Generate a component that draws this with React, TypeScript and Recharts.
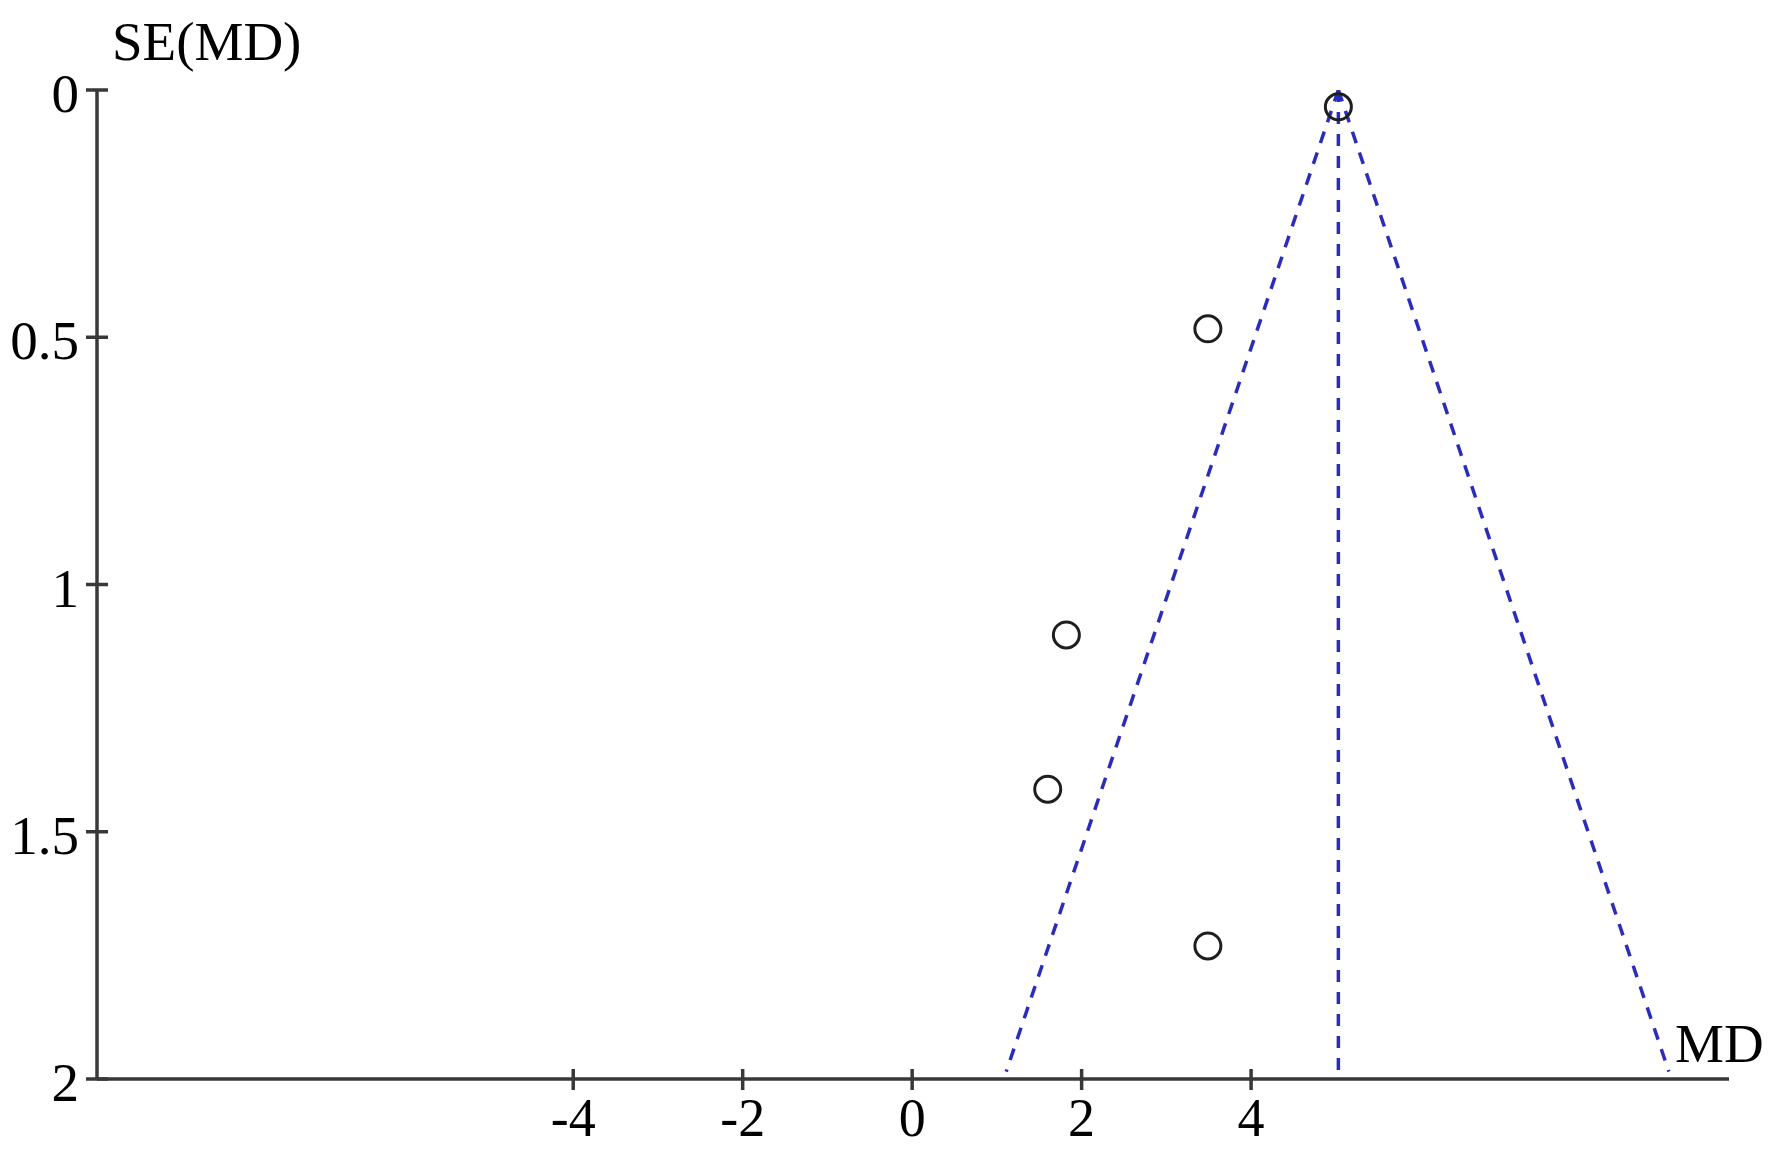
import React from "react";
import { ScatterChart, Scatter, XAxis, YAxis, Label } from "recharts";

// Study estimates: mean difference (MD) and its standard error SE(MD)
const studyMD = [5.03, 3.49, 1.82, 1.6, 3.49];
const studySE = [0.034, 0.483, 1.102, 1.414, 1.731];

// Funnel (pooled estimate and 95% pseudo-confidence limits)
const funnelSE = [0, 1.985];
const funnelLower = [5.03, 1.11];
const funnelUpper = [5.03, 8.93];
const funnelCentre = [5.03, 5.03];

// Axis ticks
const xTicks = [-4, -2, 0, 2, 4];
const yTicks = [0, 0.5, 1, 1.5, 2];
const xDomain = [-9.62, 9.64];
const yDomain = [0, 2];

const studies = studyMD.map((md, i) => ({ md, se: studySE[i] }));
const leftLine = funnelSE.map((se, i) => ({ md: funnelLower[i], se }));
const rightLine = funnelSE.map((se, i) => ({ md: funnelUpper[i], se }));
const centreLine = funnelSE.map((se, i) => ({ md: funnelCentre[i], se }));

const FONT = '"Liberation Serif", "Times New Roman", serif';
const AXIS = "#383838";
const BLUE = "#2c2cbc";

const YTick = (props: any) => {
  const { x, y, payload } = props;
  return (
    <g>
      <line x1={x - 11} x2={x + 11} y1={y} y2={y} stroke={AXIS} strokeWidth={3.5} />
      <text x={x - 18} y={y + 22} textAnchor="end" fontSize={55} fontFamily={FONT} fill="#000">
        {String(payload.value)}
      </text>
    </g>
  );
};

const XTick = (props: any) => {
  const { x, y, payload } = props;
  return (
    <g>
      <line x1={x} x2={x} y1={y - 10} y2={y + 11} stroke={AXIS} strokeWidth={3.5} />
      <text x={x} y={y + 57} textAnchor="middle" fontSize={54} fontFamily={FONT} fill="#000">
        {String(payload.value)}
      </text>
    </g>
  );
};

const NoShape = () => <g />;

const Ring = (props: any) => {
  const { cx, cy } = props;
  return <circle cx={cx} cy={cy} r={13} fill="none" stroke="#1e1e1e" strokeWidth={3} />;
};

const dashLine = { stroke: BLUE, strokeWidth: 3.5, strokeDasharray: "12 10" };

export default function App() {
  return (
    <div style={{ position: "absolute", left: 0, top: 0, width: 1772, height: 1150, background: "#fff" }}>
      <ScatterChart width={1772} height={1150} margin={{ top: 90, right: 43, bottom: 0, left: 0 }}>
        <XAxis
          type="number"
          dataKey="md"
          domain={xDomain}
          ticks={xTicks}
          allowDataOverflow
          height={71}
          tickSize={0}
          tickMargin={0}
          tickLine={false}
          axisLine={{ stroke: AXIS, strokeWidth: 3.5 }}
          tick={<XTick />}
        >
          <Label
            content={(p: any) => {
              const vb = p.viewBox;
              return (
                <text x={vb.x + vb.width - 54} y={vb.y - 17} fontSize={55} fontFamily={FONT} fill="#000">
                  MD
                </text>
              );
            }}
          />
        </XAxis>
        <YAxis
          type="number"
          dataKey="se"
          domain={yDomain}
          ticks={yTicks}
          reversed
          allowDataOverflow
          width={97}
          tickSize={0}
          tickMargin={0}
          tickLine={false}
          axisLine={{ stroke: AXIS, strokeWidth: 3.5 }}
          tick={<YTick />}
        >
          <Label
            content={(p: any) => {
              const vb = p.viewBox;
              return (
                <text x={vb.x + vb.width + 15} y={vb.y - 30} fontSize={55} fontFamily={FONT} fill="#000">
                  SE(MD)
                </text>
              );
            }}
          />
        </YAxis>
        <Scatter data={leftLine} isAnimationActive={false} shape={NoShape} line={dashLine} />
        <Scatter data={rightLine} isAnimationActive={false} shape={NoShape} line={dashLine} />
        <Scatter data={centreLine} isAnimationActive={false} shape={NoShape} line={dashLine} />
        <Scatter data={studies} isAnimationActive={false} shape={Ring} />
      </ScatterChart>
    </div>
  );
}
